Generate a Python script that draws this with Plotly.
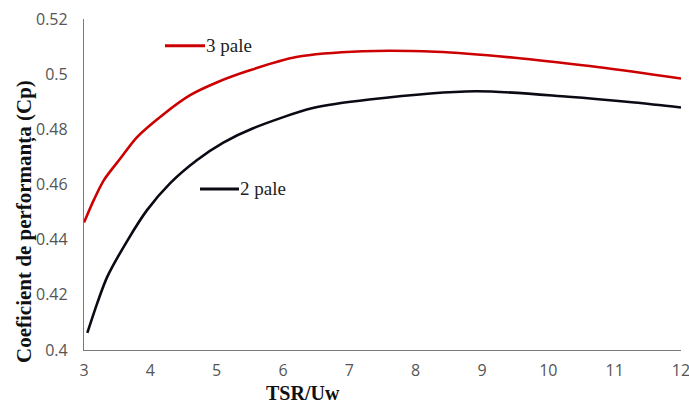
import plotly.graph_objects as go

# Data
tsr_3 = [3.0, 3.15, 3.3, 3.55, 3.8, 4.2, 4.6, 5.0, 5.5, 6.2, 7.2, 8.3, 9.6, 10.8, 12.0]
cp_3 = [0.4462, 0.4545, 0.4616, 0.4695, 0.4772, 0.4855, 0.4924, 0.4970, 0.5014, 0.5062, 0.5083, 0.5081, 0.5057, 0.5024, 0.4984]

tsr_2 = [3.05, 3.2, 3.35, 3.65, 3.95, 4.3, 4.7, 5.1, 5.55, 6.45, 7.3, 8.9, 10.3, 11.3, 12.0]
cp_2 = [0.4062, 0.4170, 0.4265, 0.4395, 0.4507, 0.4605, 0.4688, 0.4752, 0.4804, 0.4877, 0.4908, 0.4938, 0.4918, 0.4897, 0.4879]

x_ticks = [3, 4, 5, 6, 7, 8, 9, 10, 11, 12]
y_ticks = [0.40, 0.42, 0.44, 0.46, 0.48, 0.50, 0.52]
y_tick_text = ["0.4", "0.42", "0.44", "0.46", "0.48", "0.5", "0.52"]

name_3 = "3 pale"
name_2 = "2 pale"
x_title = "TSR/Uw"
y_title = "Coeficient de performanța (Cp)"

color_3 = "#cc0000"
color_2 = "#0a0a14"

# plot area in pixels (for placing decorations)
L, R, T, B = 84, 681, 19, 350
def px(x):
    return (x - L) / (R - L)
def py(y):
    return (B - y) / (B - T)

fig = go.Figure()
fig.add_trace(go.Scatter(x=tsr_3, y=cp_3, mode="lines", name=name_3,
                         line=dict(color=color_3, width=2.6, shape="spline", smoothing=0.8)))
fig.add_trace(go.Scatter(x=tsr_2, y=cp_2, mode="lines", name=name_2,
                         line=dict(color=color_2, width=2.6, shape="spline", smoothing=0.8)))

legend_font = dict(family="Liberation Serif", size=19, color="#222222")
fig.update_layout(
    width=689, height=403,
    margin=dict(l=L, r=689 - R, t=T, b=403 - B),
    paper_bgcolor="white", plot_bgcolor="white",
    showlegend=False,
    xaxis=dict(range=[3, 12], tickvals=x_ticks, showgrid=False, zeroline=False,
               showline=True, linecolor="#7a7a7a", linewidth=1.3, ticks="",
               ticklabelstandoff=6, ticklabeloverflow="allow", automargin=False,
               tickfont=dict(family="Open Sans", size=16, color="#555555")),
    yaxis=dict(range=[0.4, 0.52], tickvals=y_ticks, ticktext=y_tick_text,
               showgrid=False, zeroline=False, automargin=False,
               showline=True, linecolor="#7a7a7a", linewidth=1.3, ticks="",
               ticklabelstandoff=12,
               tickfont=dict(family="Open Sans", size=16, color="#555555")),
    shapes=[
        dict(type="line", xref="paper", yref="paper", x0=px(165), x1=px(205),
             y0=py(45.7), y1=py(45.7), line=dict(color=color_3, width=3)),
        dict(type="line", xref="paper", yref="paper", x0=px(200), x1=px(239),
             y0=py(189), y1=py(189), line=dict(color=color_2, width=3)),
    ],
    annotations=[
        dict(text=name_3, xref="paper", yref="paper", x=px(204), y=py(45),
             xanchor="left", yanchor="middle", showarrow=False, font=legend_font),
        dict(text=name_2, xref="paper", yref="paper", x=px(238), y=py(188),
             xanchor="left", yanchor="middle", showarrow=False, font=legend_font),
        dict(text=f"<b>{x_title}</b>", xref="paper", yref="paper",
             x=px(303), y=py(393), xanchor="center", yanchor="middle",
             showarrow=False, font=dict(family="Liberation Serif", size=20, color="#111111")),
        dict(text=f"<b>{y_title}</b>", xref="paper", yref="paper",
             x=px(24), y=py(222), xanchor="center", yanchor="middle",
             textangle=-90, showarrow=False,
             font=dict(family="Liberation Serif", size=21, color="#111111")),
    ],
)

fig.write_html("out.html")
